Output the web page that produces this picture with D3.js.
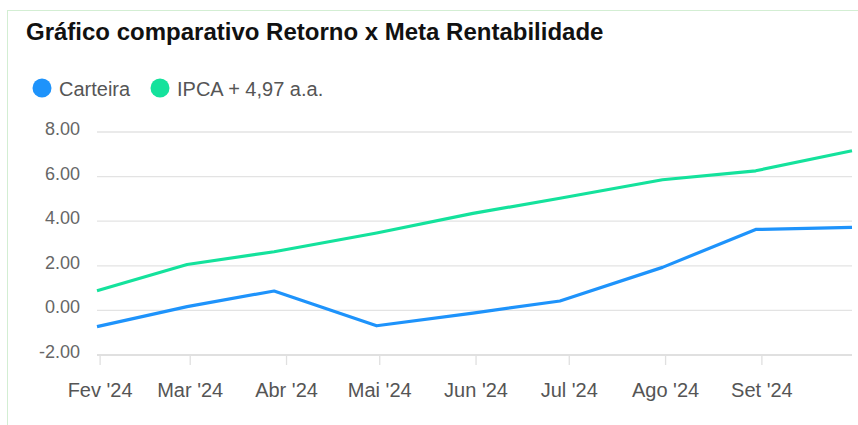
<!DOCTYPE html>
<html>
<head>
<meta charset="utf-8">
<script src="https://cdn.jsdelivr.net/npm/d3@7"></script>
<style>
  body { margin: 0; background: #fff; }
  text { font-family: "Liberation Sans", Arial, sans-serif; }
</style>
</head>
<body>
<div id="container"></div>
<script>
// dates of each point (last business day of the month)
var dates = ["2024-01-31", "2024-02-29", "2024-03-28", "2024-04-30", "2024-05-31",
             "2024-06-28", "2024-07-31", "2024-08-30", "2024-09-30"];
var carteira = [-0.73, 0.17, 0.87, -0.69, -0.12, 0.42, 1.93, 3.63, 3.72];
var ipca = [0.88, 2.06, 2.63, 3.47, 4.35, 5.03, 5.86, 6.26, 7.16];

var seriesNames = ["Carteira", "IPCA + 4,97 a.a."];
var seriesColors = ["#1e93fb", "#14e29c"];
var monthLabels = ["Jan", "Fev", "Mar", "Abr", "Mai", "Jun", "Jul", "Ago", "Set", "Out", "Nov", "Dez"];
var yTicks = [-2, 0, 2, 4, 6, 8];

var svgWidth = 858, svgHeight = 425;
var margin = { top: 132, right: 6, bottom: 70, left: 97 },
    width = svgWidth - margin.left - margin.right,
    height = svgHeight - margin.top - margin.bottom;

var parse = d3.timeParse("%Y-%m-%d");
var pts = dates.map(parse);

var root = d3.select("div#container")
    .append("svg")
    .attr("width", svgWidth)
    .attr("height", svgHeight);

// card border
root.append("rect")
    .attr("x", 7.5).attr("y", 10.5)
    .attr("width", 900).attr("height", 500)
    .attr("fill", "none")
    .attr("stroke", "#d3eed3");

// title
root.append("text")
    .attr("x", 26).attr("y", 40)
    .style("font-size", "24px")
    .style("font-weight", "bold")
    .attr("fill", "#111")
    .text("Gráfico comparativo Retorno x Meta Rentabilidade");

// legend
var legendX = [42, 160];
seriesNames.forEach(function (name, i) {
    root.append("circle")
        .attr("cx", legendX[i]).attr("cy", 88).attr("r", 9.5)
        .attr("fill", seriesColors[i]);
    root.append("text")
        .attr("x", legendX[i] + 17).attr("y", 96)
        .style("font-size", "20px")
        .attr("fill", "#555")
        .text(name);
});

var svg = root.append("g")
    .attr("transform", "translate(" + margin.left + "," + margin.top + ")");

var x = d3.scaleTime()
    .domain(d3.extent(pts))
    .range([0, width]);

var y = d3.scaleLinear()
    .domain([-2, 8])
    .range([height, 0]);

// grid lines
svg.selectAll("line.grid")
    .data(yTicks)
    .enter()
    .append("line")
    .attr("class", "grid")
    .attr("x1", 0).attr("x2", width)
    .attr("y1", function (d) { return y(d); })
    .attr("y2", function (d) { return y(d); })
    .attr("stroke", "#e3e3e3")
    .attr("stroke-width", 1.3);

// y labels (plain hyphen for negatives, like the original)
svg.selectAll("text.ylab")
    .data(yTicks)
    .enter()
    .append("text")
    .attr("class", "ylab")
    .attr("x", -17)
    .attr("y", function (d) { return y(d) + 3; })
    .attr("text-anchor", "end")
    .style("font-size", "18px")
    .attr("fill", "#666")
    .text(function (d) { return d.toFixed(2); });

// x axis
var xTicks = d3.timeMonth.range(d3.timeMonth.ceil(pts[0]), pts[pts.length - 1]);
svg.append("line")
    .attr("x1", 0).attr("x2", width)
    .attr("y1", height).attr("y2", height)
    .attr("stroke", "#e0e0e0")
    .attr("stroke-width", 2);

svg.selectAll("line.xtick")
    .data(xTicks)
    .enter()
    .append("line")
    .attr("class", "xtick")
    .attr("x1", function (d) { return x(d); })
    .attr("x2", function (d) { return x(d); })
    .attr("y1", height).attr("y2", height + 10)
    .attr("stroke", "#e0e0e0")
    .attr("stroke-width", 1.3);

svg.selectAll("text.xlab")
    .data(xTicks)
    .enter()
    .append("text")
    .attr("class", "xlab")
    .attr("x", function (d) { return x(d); })
    .attr("y", height + 42)
    .attr("text-anchor", "middle")
    .style("font-size", "20px")
    .attr("fill", "#555")
    .text(function (d) { return monthLabels[d.getMonth()] + " '" + d3.timeFormat("%y")(d); });

// lines
var line = d3.line()
    .x(function (d) { return x(d[0]); })
    .y(function (d) { return y(d[1]); });

[carteira, ipca].forEach(function (vals, i) {
    svg.append("path")
        .datum(pts.map(function (p, j) { return [p, vals[j]]; }))
        .attr("fill", "none")
        .attr("stroke", seriesColors[i])
        .attr("stroke-width", 3.2)
        .attr("stroke-linejoin", "round")
        .attr("d", line);
});
</script>
</body>
</html>
